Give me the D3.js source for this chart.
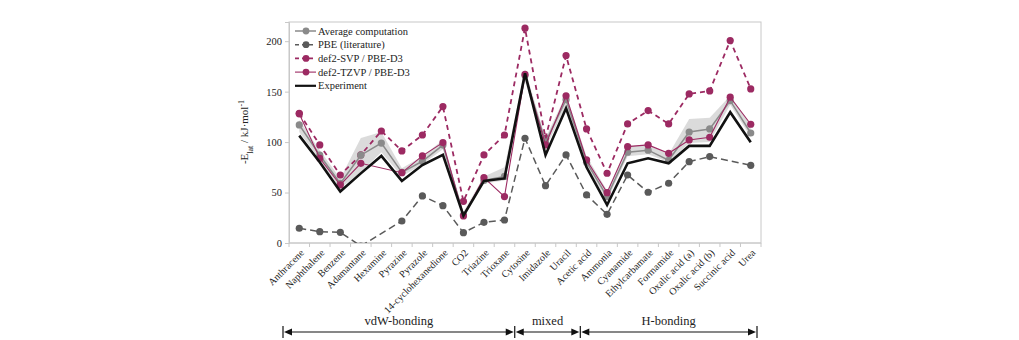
<!DOCTYPE html>
<html>
<head>
<meta charset="utf-8">
<script src="https://cdn.jsdelivr.net/npm/d3@7"></script>
<style>
  body { margin: 0; background: #fff; }
  text { font-family: "Liberation Serif", "Times New Roman", serif; fill: #222; }
</style>
</head>
<body>
<div id="chart"></div>
<script>
// compounds along the x axis
const categories = ["Anthracene", "Naphthalene", "Benzene", "Adamantane", "Hexamine", "Pyrazine",
  "Pyrazole", "14-cyclohexanedione", "CO2", "Triazine", "Trioxane", "Cytosine", "Imidazole",
  "Uracil", "Acetic acid", "Ammonia", "Cyanamide", "Ethylcarbamate", "Formamide",
  "Oxalic acid (a)", "Oxalic acid (b)", "Succinic acid", "Urea"];

// lattice energies, kJ/mol (null = no value)
const avgComp = [117, 87, 59, 87, 99, 70, 81, 97, 28, 62, 66, 166, 100, 142, 80, 46, 90, 92, 82, 110, 113, 141, 109];
const pbeLit = [14.6, 11.2, 10.6, -3, null, 21.8, 46.6, 37, 10.2, 20.5, 22.8, 103.8, 56.8, 87.3, 47.6, 28.4, 67.4, 50.3, 59.2, 80.6, 85.6, null, 77];
const svpD3 = [128.6, 97.2, 67.4, 87.3, 111, 91.2, 107, 135.2, 41.3, 87.3, 107, 212.9, 103.8, 185.7, 113, 69.1, 118, 131.2, 118, 147.7, 150.7, 200.6, 152.7];
const tzvpD3 = [128, 84, 57.5, 79, null, 69.7, 86.3, 99.5, 26.8, 64.8, 46, 167, 97.2, 145.8, 82.3, 49.9, 95.5, 97.2, 88.9, 102.1, 104.8, 144.5, 117.7];
const experiment = [106.4, 80, 51, 69, 86.3, 61.5, 77.3, 87.3, 27, 61.5, 64, 168.2, 87.3, 133.5, 75, 37.7, 79, 84, 79, 96.2, 96.2, 129.6, 99.8];

// spread of the computations (shaded band)
const bandLow = [110, 82, 54, 70, 90, 66, 78, 93, 25, 59, 62, 160, 94, 136, 76, 42, 86, 88, 80, 99, 100, 137, 105];
const bandHigh = [122, 92, 64, 104, 110, 74, 86, 102, 31, 66, 75, 172, 104, 147, 86, 52, 96, 97, 88, 123, 124, 146, 117];

const yTicks = [0, 50, 100, 150, 200];

// bonding groups: label, first and last compound
const groups = [
  { label: "vdW-bonding", from: "Anthracene", to: "Trioxane" },
  { label: "mixed", from: "Cytosine", to: "Uracil" },
  { label: "H-bonding", from: "Acetic acid", to: "Urea" }
];

const width = 1019, height = 340;
const plot = { left: 289, right: 761, top: 22, bottom: 243 };
const magenta = "#9c2a62";

const svg = d3.select("#chart").append("svg")
  .attr("width", width)
  .attr("height", height);

const x = d3.scaleBand()
  .domain(categories)
  .range([plot.left, plot.right])
  .padding(0);

const y = d3.scaleLinear()
  .domain([0, 219])
  .range([plot.bottom, plot.top]);

const cx = d => x(d) + x.bandwidth() / 2;

svg.append("defs").append("clipPath")
  .attr("id", "plotClip")
  .append("rect")
  .attr("x", plot.left).attr("y", plot.top)
  .attr("width", plot.right - plot.left)
  .attr("height", plot.bottom - plot.top);

// frame
svg.append("rect")
  .attr("x", plot.left).attr("y", plot.top)
  .attr("width", plot.right - plot.left)
  .attr("height", plot.bottom - plot.top)
  .attr("fill", "none")
  .attr("stroke", "#c8c8c8")
  .attr("stroke-width", 1);

// y axis
const yAxis = svg.append("g")
  .attr("transform", `translate(${plot.left},0)`)
  .call(d3.axisLeft(y).tickValues(yTicks).tickSize(4).tickPadding(3));
yAxis.select(".domain").attr("stroke", "#c8c8c8");
yAxis.selectAll(".tick line").attr("stroke", "#c8c8c8");
yAxis.selectAll(".tick text")
  .style("font-family", "Liberation Serif, serif")
  .style("font-size", "10.5px")
  .attr("fill", "#333");

// x axis: ticks at band edges
const xAxis = svg.append("g")
  .attr("transform", `translate(0,${plot.bottom})`);
xAxis.append("line")
  .attr("x1", plot.left).attr("x2", plot.right)
  .attr("stroke", "#c8c8c8");
xAxis.selectAll(".edge")
  .data(categories.concat(["__end"]))
  .enter().append("line")
  .attr("class", "edge")
  .attr("x1", (d, i) => i < categories.length ? x(d) : plot.right)
  .attr("x2", (d, i) => i < categories.length ? x(d) : plot.right)
  .attr("y1", 0).attr("y2", 4)
  .attr("stroke", "#c8c8c8");
xAxis.selectAll(".lbl")
  .data(categories)
  .enter().append("text")
  .attr("class", "lbl")
  .attr("transform", d => `translate(${cx(d) + 3},${8}) rotate(-45)`)
  .attr("text-anchor", "end")
  .attr("dy", "0.35em")
  .style("font-size", "10px")
  .text(d => d);

// y axis label
const yLabel = svg.append("text")
  .attr("transform", `translate(248,132) rotate(-90)`)
  .attr("text-anchor", "middle")
  .style("font-size", "11px");
yLabel.append("tspan").text("-E");
yLabel.append("tspan").attr("baseline-shift", "sub").style("font-size", "8px").text("lat");
yLabel.append("tspan").text(" / kJ\u00b7mol");
yLabel.append("tspan").attr("baseline-shift", "super").style("font-size", "8px").text("-1");

const marks = svg.append("g").attr("clip-path", "url(#plotClip)");

// shaded spread
const area = d3.area()
  .x(d => cx(d.c))
  .y0(d => y(d.lo))
  .y1(d => y(d.hi));
marks.append("path")
  .datum(categories.map((c, i) => ({ c, lo: bandLow[i], hi: bandHigh[i] })))
  .attr("d", area)
  .attr("fill", "#bdbdbd")
  .attr("opacity", 0.55);

const series = [
  { name: "PBE (literature)", values: pbeLit, color: "#5a5a5a", width: 1.5, dash: "7,4", dots: true },
  { name: "def2-SVP / PBE-D3", values: svpD3, color: magenta, width: 1.8, dash: "5,4", dots: true },
  { name: "Average computation", values: avgComp, color: "#8a8a8a", width: 1.5, dash: null, dots: true },
  { name: "def2-TZVP / PBE-D3", values: tzvpD3, color: magenta, width: 1.1, dash: null, dots: true },
  { name: "Experiment", values: experiment, color: "#111", width: 2.6, dash: null, dots: false }
];

const line = d3.line()
  .x(d => cx(d.c))
  .y(d => y(d.v));

series.forEach(s => {
  const pts = categories.map((c, i) => ({ c, v: s.values[i] })).filter(d => d.v !== null);
  marks.append("path")
    .datum(pts)
    .attr("d", line)
    .attr("fill", "none")
    .attr("stroke", s.color)
    .attr("stroke-width", s.width)
    .attr("stroke-dasharray", s.dash)
    .attr("stroke-linejoin", "miter");
  if (s.dots) {
    marks.selectAll(null)
      .data(pts)
      .enter().append("circle")
      .attr("cx", d => cx(d.c))
      .attr("cy", d => y(d.v))
      .attr("r", 3.6)
      .attr("fill", s.color);
  }
});

// legend
const legendOrder = ["Average computation", "PBE (literature)", "def2-SVP / PBE-D3", "def2-TZVP / PBE-D3", "Experiment"];
const legend = svg.append("g").attr("transform", "translate(295,31)");
legendOrder.forEach((name, i) => {
  const s = series.find(d => d.name === name);
  const row = legend.append("g").attr("transform", `translate(0,${i * 13.7})`);
  row.append("line")
    .attr("x1", 0).attr("x2", 21)
    .attr("stroke", s.color)
    .attr("stroke-width", s.name === "Experiment" ? 2.2 : s.width)
    .attr("stroke-dasharray", s.dash ? "4,3" : null);
  if (s.dots) {
    row.append("circle").attr("cx", 11).attr("r", 3.4).attr("fill", s.color);
  }
  row.append("text")
    .attr("x", 23)
    .attr("dy", "0.35em")
    .style("font-size", "10.5px")
    .text(name);
});

// bonding-type brackets
const bracketY = 332;
const groupBounds = groups.map((g, i) => {
  let x0 = x(g.from), x1 = x(g.to) + x.bandwidth();
  if (i === 0) x0 -= 6;
  if (i === groups.length - 1) x1 -= 4;
  if (i === 1) x1 += 4;
  if (i === 2) x0 += 4;
  return { label: g.label, x0, x1 };
});
const brackets = svg.append("g");
const arrow = (px, dir) => `M${px},${bracketY} L${px - dir * 8},${bracketY - 3.5} L${px - dir * 8},${bracketY + 3.5} Z`;
groupBounds.forEach(g => {
  brackets.append("line")
    .attr("x1", g.x0 + 7).attr("x2", g.x1 - 7)
    .attr("y1", bracketY).attr("y2", bracketY)
    .attr("stroke", "#111").attr("stroke-width", 1.2);
  brackets.append("path").attr("d", arrow(g.x0 + 1, -1)).attr("fill", "#111");
  brackets.append("path").attr("d", arrow(g.x1 - 1, 1)).attr("fill", "#111");
  brackets.append("text")
    .attr("x", (g.x0 + g.x1) / 2)
    .attr("y", bracketY - 7)
    .attr("text-anchor", "middle")
    .style("font-size", "12.5px")
    .text(g.label);
});
const barXs = [groupBounds[0].x0, groupBounds[0].x1, groupBounds[1].x1, groupBounds[2].x1];
brackets.selectAll(".bar")
  .data(barXs)
  .enter().append("line")
  .attr("x1", d => d).attr("x2", d => d)
  .attr("y1", bracketY - 6).attr("y2", bracketY + 6)
  .attr("stroke", "#111").attr("stroke-width", 1.2);
</script>
</body>
</html>
